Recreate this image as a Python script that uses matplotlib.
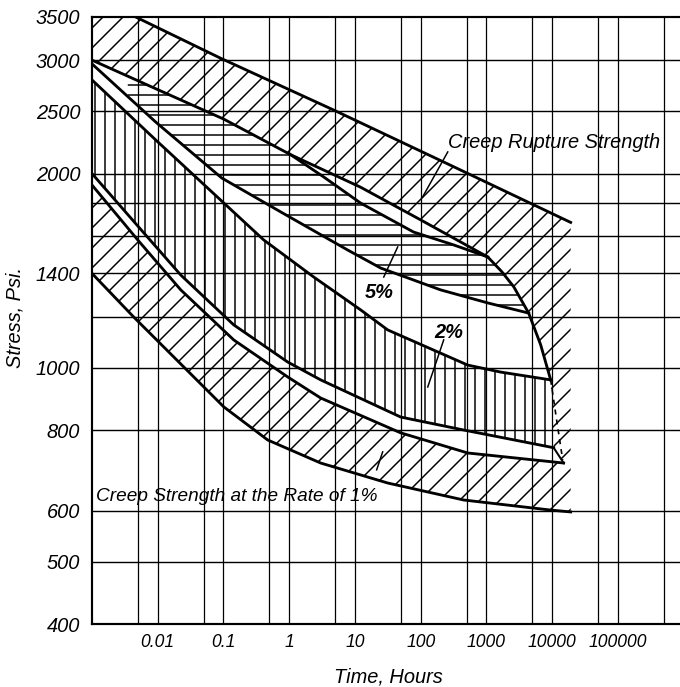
import numpy as np
import matplotlib
matplotlib.use("Agg")
import matplotlib.pyplot as plt
from matplotlib.ticker import NullLocator

plt.rcParams['font.family'] = ['Liberation Sans', 'DejaVu Sans']
plt.rcParams['hatch.linewidth'] = 0.9

# ---- data: time in hours, stress in psi ----
time_ticks = [0.01, 0.1, 1, 10, 100, 1000, 10000, 100000]
time_labels = ['0.01', '0.1', '1', '10', '100', '1000', '10000', '100000']
stress_ticks = [400, 500, 600, 800, 1000, 1400, 2000, 2500, 3000, 3500]
stress_labels = [str(s) for s in stress_ticks]
time_grid = [0.005, 0.01, 0.05, 0.1, 0.5, 1, 5, 10, 50, 100, 500, 1000,
             5000, 10000, 50000, 100000, 500000]
stress_grid = [500, 600, 800, 1000, 1200, 1400, 1600, 1800, 2000, 2500, 3000]

# creep rupture strength band
rupture_top_t = [0.001, 0.00463, 0.0908, 4.75, 286, 19100]
rupture_top_s = [3790, 3500, 3020, 2510, 2060, 1680]
rupture_low_t = [0.001, 0.01, 0.101, 1.05, 12.2, 100, 1045, 1700, 2600, 4390, 6680, 9485]
rupture_low_s = [3000, 2700, 2430, 2140, 1905, 1695, 1485, 1410, 1335, 1215, 1085, 957]
rupture_tail_t = [9485, 11700, 14450]
rupture_tail_s = [957, 829, 719]

# 5 % band
five_top_t = [1.05, 3.35, 12.2, 78, 318, 1045]
five_top_s = [2140, 1976, 1800, 1623, 1550, 1485]
five_low_t = [0.001, 0.0093, 0.094, 0.743, 7.76, 24.7, 201, 1045, 4390]
five_low_s = [2960, 2405, 1969, 1744, 1522, 1427, 1320, 1260, 1215]
five_start = 0.0035

# 2 % band
two_top_t = [0.001, 0.0093, 0.409, 2.36, 12.2, 31.5, 519, 1648, 9485]
two_top_s = [2795, 2256, 1578, 1382, 1229, 1144, 1009, 984, 957]
two_low_t = [0.001, 0.00496, 0.0224, 0.143, 0.949, 3.01, 49.6, 451, 10540]
two_low_s = [2000, 1659, 1392, 1165, 1020, 957, 838, 800, 751]

# creep strength at the rate of 1 %
one_top_t = [0.001, 0.00496, 0.0224, 0.143, 0.949, 3.01, 49.6, 519, 14960]
one_top_s = [1920, 1578, 1320, 1104, 967, 897, 792, 737, 711]
one_low_t = [0.001, 0.00431, 0.101, 0.471, 3.01, 31.5, 451, 9485, 19100]
one_low_s = [1400, 1198, 869, 772, 711, 662, 623, 601, 597]


def log_at(t_arr, s_arr, t):
    return 10 ** np.interp(np.log10(t), np.log10(t_arr), np.log10(s_arr))


fig = plt.figure(figsize=(680 / 120, 687 / 120), dpi=120)
ax = fig.add_axes([92 / 680, 1 - 624 / 687, 588 / 680, 607 / 687])
ax.set_xscale('log')
ax.set_yscale('log')
ax.set_xlim(1e-3, 8.8e5)
ax.set_ylim(400, 3500)

# ---- hatched regions ----
# diagonal hatch: rupture band + right block + 1 % band
px = (rupture_top_t + [rupture_top_t[-1]] + one_low_t[::-1] + one_top_t
      + [two_low_t[-1]] + rupture_low_t[::-1])
py = (rupture_top_s + [one_low_s[-1]] + one_low_s[::-1] + one_top_s
      + [two_low_s[-1]] + rupture_low_s[::-1])
ax.fill(px, py, facecolor='none', edgecolor='black', hatch='//', linewidth=0, zorder=1)

# horizontal hatch: 5 % band
rl = list(zip(rupture_low_t, rupture_low_s))
up = [(five_start, log_at(rupture_low_t, rupture_low_s, five_start))]
up += [p for p in rl if five_start < p[0] < five_top_t[0]]
up += list(zip(five_top_t, five_top_s))
up += [p for p in rl if five_top_t[-1] < p[0] <= five_low_t[-1]]
lo = [p for p in zip(five_low_t, five_low_s) if p[0] > five_start][::-1]
lo += [(five_start, log_at(five_low_t, five_low_s, five_start))]
poly = up + lo
ax.fill([p[0] for p in poly], [p[1] for p in poly], facecolor='none', edgecolor='black',
        hatch='--', linewidth=0, zorder=1)

# vertical hatch: 2 % band
ax.fill(two_top_t + two_low_t[::-1], two_top_s + two_low_s[::-1], facecolor='none',
        edgecolor='black', hatch='||', linewidth=0, zorder=1)

# ---- grid ----
for t in time_grid:
    ax.axvline(t, color='black', lw=0.75, zorder=2)
for s in stress_grid:
    ax.axhline(s, color='black', lw=0.85, zorder=2)

# ---- curves ----
lw = 1.7
ax.plot(rupture_top_t, rupture_top_s, color='black', lw=lw, zorder=3)
ax.plot(rupture_low_t, rupture_low_s, color='black', lw=lw, zorder=3)
ax.plot(rupture_tail_t, rupture_tail_s, color='black', lw=1.0, ls=(0, (3, 3)), zorder=3)
ax.plot(five_top_t, five_top_s, color='black', lw=lw, zorder=3)
ax.plot(five_low_t, five_low_s, color='black', lw=lw, zorder=3)
ax.plot(two_top_t, two_top_s, color='black', lw=lw, zorder=3)
ax.plot(two_low_t, two_low_s, color='black', lw=lw, zorder=3)
ax.plot(one_top_t, one_top_s, color='black', lw=lw, zorder=3)
ax.plot(one_low_t, one_low_s, color='black', lw=lw, zorder=3)
ax.plot([two_low_t[-1], one_top_t[-1]], [two_low_s[-1], one_top_s[-1]], color='black', lw=1.2, zorder=3)

# ---- annotations ----
ax.text(262, 2232, 'Creep Rupture Strength', fontsize=12, fontstyle='italic',
        va='center', ha='left', zorder=4)
ax.plot([258, 107], [2161, 1840], color='black', lw=0.9, zorder=4)
ax.text(23, 1306, '5%', fontsize=12, fontstyle='italic', fontweight='bold',
        ha='center', va='center', zorder=4)
ax.plot([27.4, 44.7], [1382, 1539], color='black', lw=0.9, zorder=4)
ax.text(267, 1132, '2%', fontsize=12, fontstyle='italic', fontweight='bold',
        ha='center', va='center', zorder=4)
ax.plot([224, 128], [1104, 933], color='black', lw=0.9, zorder=4)
ax.text(0.00114, 630, 'Creep Strength at the Rate of 1%', fontsize=11.4,
        fontstyle='italic', ha='left', va='center', zorder=4)
ax.plot([21.4, 26.4], [694, 740], color='black', lw=0.9, zorder=4)

# ---- axes styling ----
ax.set_yticks(stress_ticks, labels=stress_labels, fontsize=12, fontstyle='italic')
ax.set_xticks(time_ticks, labels=time_labels, fontsize=10.5, fontstyle='italic')
ax.xaxis.set_minor_locator(NullLocator())
ax.yaxis.set_minor_locator(NullLocator())
ax.tick_params(axis='both', length=0)
ax.tick_params(axis='y', pad=7)
ax.tick_params(axis='x', pad=6)
for side in ['left', 'bottom', 'top']:
    ax.spines[side].set_linewidth(1.3)
ax.spines['right'].set_visible(False)

fig.text(15 / 680, 1 - 318 / 687, 'Stress, Psi.', rotation=90, ha='center', va='center',
         fontsize=12, fontstyle='italic')
fig.text(388 / 680, 1 - 677 / 687, 'Time, Hours', ha='center', va='center',
         fontsize=12, fontstyle='italic')

fig.savefig('out.png', dpi=120, facecolor='white')
